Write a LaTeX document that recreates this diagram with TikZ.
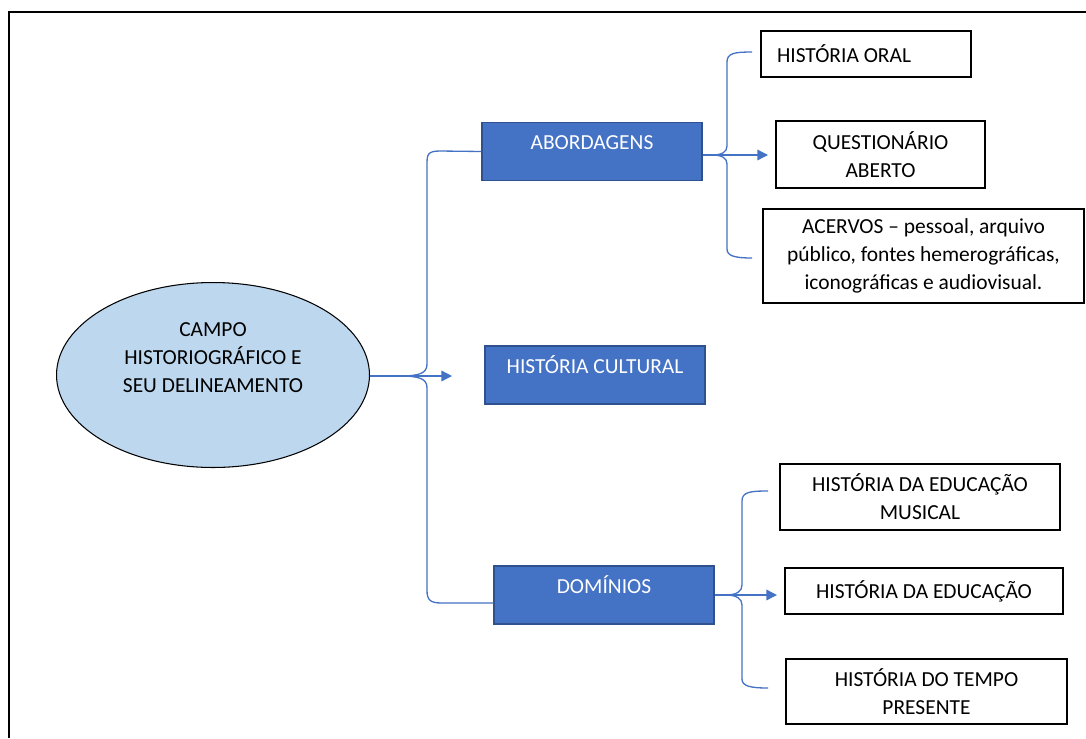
\documentclass[tikz,border=0pt]{standalone}
\usepackage{fontspec}
\setmainfont{Carlito}
\usetikzlibrary{shapes,arrows.meta,calc,positioning}
\definecolor{boxblue}{HTML}{4472C4}
\definecolor{boxedge}{HTML}{2F528F}
\definecolor{ovalblue}{HTML}{BDD7EE}

\begin{document}
\begin{tikzpicture}[x=0.02cm, y=-0.02cm,
        txt/.style={font=\fontsize{12.2}{15.9}\selectfont},
        topic/.style={draw=boxedge, line width=0.8pt, fill=boxblue, text=white, txt, minimum width=4.4cm, inner ysep=0pt, text height=15.5pt, text depth=17.5pt},
        item/.style={draw=black, line width=0.85pt, txt, align=center, inner sep=0pt},
        bracket/.style={draw=boxblue, line width=0.75pt},
        arr/.style={bracket, -{Triangle[length=6pt, width=6pt]}}]
                \useasboundingbox (0,0) rectangle (1086,738);
                \draw[line width=1.2pt] (9,738) -- (9,12) -- (1086,12);

                \node[ellipse, draw, line width=0.6pt, fill=ovalblue, minimum width=6.26cm, minimum height=3.7cm,
                      label={[txt, align=center, yshift=0.34cm]center:CAMPO\\HISTORIOGRÁFICO E\\SEU DELINEAMENTO}] (campo) at (213,375) {};

                \node[topic] (abordagens) at (592,151.5) {ABORDAGENS};
                \node[topic] (cultural)   at (595,375)   {HISTÓRIA CULTURAL};
                \node[topic] (dominios)   at (604,595)   {DOMÍNIOS};

                \node[item, minimum width=4.2cm, minimum height=0.92cm, text width=3.56cm, align=flush left] (oral) at (866,54) {HISTÓRIA ORAL};
                \node[item, minimum width=4.18cm, minimum height=1.34cm] (questionario) at (880.5,154.5) {QUESTIONÁRIO\\ABERTO};
                \node[item, minimum width=6.42cm, minimum height=1.88cm] (acervos) at (923.5,256) {ACERVOS – pessoal, arquivo\\público, fontes hemerográficas,\\iconográficas e audiovisual.};
                \node[item, minimum width=5.6cm, minimum height=1.32cm] (musical) at (920,497) {HISTÓRIA DA EDUCAÇÃO\\MUSICAL};
                \node[item, minimum width=5.56cm, minimum height=0.92cm] (educacao) at (924,591) {HISTÓRIA DA EDUCAÇÃO};
                \node[item, minimum width=5.62cm, minimum height=1.3cm] (tempo) at (926.5,691.5) {HISTÓRIA DO TEMPO\\PRESENTE};

                \coordinate (tipC) at (452,376);
                \coordinate (tipA) at (768,155);
                \coordinate (tipD) at (777,595);
                \coordinate (oralEnd) at (752,52);
                \coordinate (acervosEnd) at (752,258);
                \coordinate (musicalEnd) at (768,491);
                \coordinate (tempoEnd) at (768,688);

                % main brace
                \draw[bracket] (abordagens.west) -- (440,151) .. controls (427,151) and (427,155) .. (427,165) -- (427,364)
                    .. controls (427,373) and (420,376) .. (400,376) .. controls (420,376) and (427,379) .. (427,388) -- (427,590)
                    .. controls (427,600) and (430,603) .. (442,603) -- ($(dominios.west)+(0,8)$);
                \draw[arr] (campo.east |- tipC) -- (tipC);

                \draw[bracket] (oralEnd) .. controls (735,52) and (727,53) .. (727,62) -- (727,146)
                    .. controls (727,152) and (722,155) .. (712,155) .. controls (722,155) and (727,158) .. (727,164) -- (727,249)
                    .. controls (727,256) and (735,258) .. (acervosEnd);
                \draw[arr] (abordagens.east |- tipA) -- (tipA);

                \draw[bracket] (musicalEnd) .. controls (750,491) and (742,492) .. (742,501) -- (742,585)
                    .. controls (742,591) and (737,595) .. (726,595) .. controls (737,595) and (742,599) .. (742,605) -- (742,679)
                    .. controls (742,686) and (750,688) .. (tempoEnd);
                \draw[arr] (dominios.east |- tipD) -- (tipD);
            \end{tikzpicture}
\end{document}
